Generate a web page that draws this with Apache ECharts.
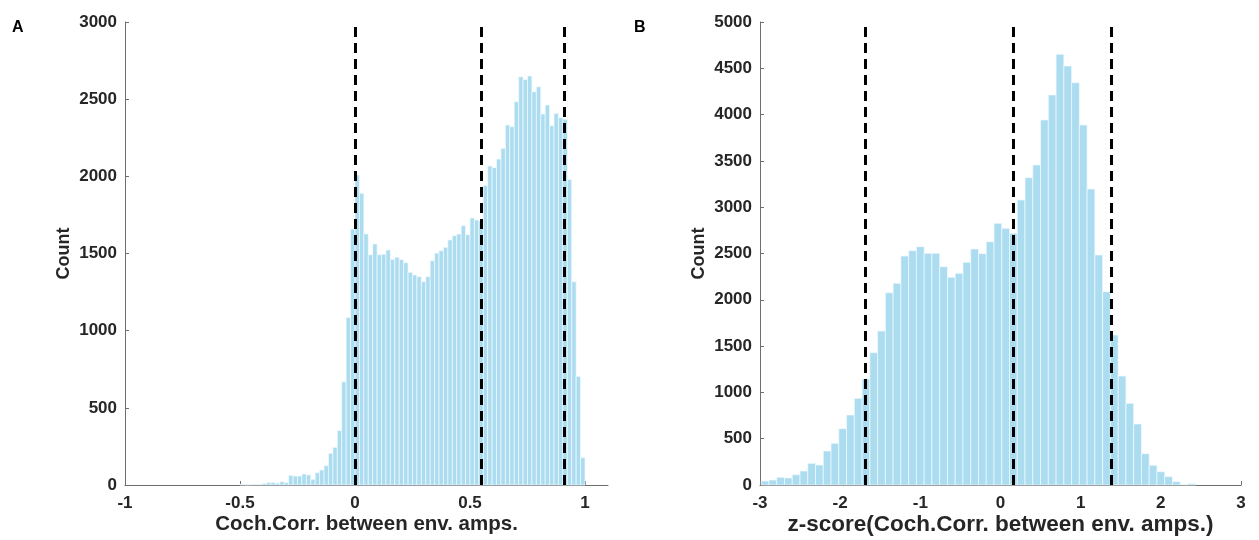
<!DOCTYPE html>
<html>
<head>
<meta charset="utf-8">
<script src="https://cdn.jsdelivr.net/npm/echarts@6/dist/echarts.min.js"></script>
<style>
  html, body { margin: 0; padding: 0; background: #fff; }
  #main { width: 1259px; height: 540px; }
</style>
</head>
<body>
<div id="main"></div>
<script>
// panel A: Coch.Corr. histogram, bins of 1/52 starting at -0.5
const aFirstEdge = -0.5;
const aBinWidth = 1 / 52;
const aCounts = [
  4, 2, 3, 5, 4, 10, 15, 15, 12, 21, 15, 63, 58, 58, 71, 65, 37, 80, 97, 125,
  205, 244, 352, 669, 1086, 1658,
  2009, 1890, 1627, 1492, 1562, 1492, 1495, 1523, 1462, 1475, 1460, 1440, 1378,
  1361, 1350, 1317, 1350, 1453, 1503, 1518, 1540, 1588, 1615, 1626, 1680, 1622,
  1730, 1717, 1710, 1940, 2067, 2056, 2112, 2181, 2333, 2322, 2484, 2645, 2628,
  2650, 2548, 2580, 2404, 2462, 2328, 2408, 2380, 2370, 1980, 1317, 704, 177
];
const aLines = [0, 0.55, 0.91];
const aXTicks = [-1, -0.5, 0, 0.5, 1];

// panel B: z-score histogram
const bFirstEdge = -2.985;
const bBinWidth = 0.0968;
const bCounts = [
  43, 54, 83, 76, 111, 151, 234, 216, 367, 450,
  608, 756, 936, 1145, 1429, 1663, 2077, 2178, 2473, 2530,
  2574, 2502, 2502, 2358, 2243, 2286, 2405, 2549, 2498, 2628,
  2826, 2772, 2718, 3078, 3319, 3456, 3942, 4212, 4651, 4525,
  4345, 3888, 3197, 2484, 2088, 1620, 1177, 882, 659, 338,
  213, 144, 90, 36, 5, 15
];
const bLines = [-1.69, 0.16, 1.38];
const bXTicks = [-3, -2, -1, 0, 1, 2, 3];

const barColor = '#acdcf0';
const axisColor = '#6e6e6e';
const textColor = '#262626';
const font = 'Liberation Sans';

const chart = echarts.init(document.getElementById('main'), null, { renderer: 'canvas' });

function histSeries(firstEdge, binWidth, counts, lines, idx) {
  const data = counts.map(function (c, i) {
    return [firstEdge + i * binWidth, firstEdge + (i + 1) * binWidth, c];
  });
  return {
    type: 'custom',
    xAxisIndex: idx,
    yAxisIndex: idx,
    encode: { x: [0, 1], y: 2 },
    data: data,
    renderItem: function (params, api) {
      const p0 = api.coord([api.value(0), api.value(2)]);
      const p1 = api.coord([api.value(1), 0]);
      return {
        type: 'rect',
        shape: { x: p0[0], y: p0[1], width: p1[0] - p0[0], height: p1[1] - p0[1] },
        style: { fill: barColor, stroke: '#f2fafd', lineWidth: 0.7 }
      };
    },
    markLine: {
      silent: true,
      symbol: 'none',
      label: { show: false },
      lineStyle: { color: '#000', width: 3, type: [10, 6] },
      data: lines.map(function (v) { return { xAxis: v }; })
    }
  };
}

function xAxisOf(idx, min, max, ticks, name, nameSize, gap) {
  return {
    type: 'value',
    gridIndex: idx,
    min: min,
    max: max,
    name: name,
    nameLocation: 'middle',
    nameGap: gap,
    nameMoveOverlap: false,
    nameTextStyle: { color: textColor, fontFamily: font, fontWeight: 'bold', fontSize: nameSize },
    axisLine: { show: true, onZero: false, lineStyle: { color: axisColor, width: 1 } },
    axisTick: { show: true, inside: true, length: 4, customValues: ticks, lineStyle: { color: axisColor } },
    axisLabel: { customValues: ticks, color: textColor, fontFamily: font, fontWeight: 'bold', fontSize: 17, margin: 10 },
    splitLine: { show: false }
  };
}

function yAxisOf(idx, max) {
  return {
    type: 'value',
    gridIndex: idx,
    min: 0,
    max: max,
    interval: 500,
    name: 'Count',
    nameLocation: 'middle',
    nameGap: 52,
    nameMoveOverlap: false,
    nameTextStyle: { color: textColor, fontFamily: font, fontWeight: 'bold', fontSize: 18 },
    axisLine: { show: true, onZero: false, lineStyle: { color: axisColor, width: 1 } },
    axisTick: { show: true, inside: true, length: 4, lineStyle: { color: axisColor } },
    axisLabel: {
      color: textColor, fontFamily: font, fontWeight: 'bold', fontSize: 17, margin: 8,
      formatter: function (v) { return String(v); }
    },
    splitLine: { show: false }
  };
}

const option = {
  animation: false,
  backgroundColor: '#fff',
  grid: [
    { left: 125, top: 22, width: 483, height: 463, outerBoundsMode: 'none' },
    { left: 760, top: 22, width: 481, height: 463, outerBoundsMode: 'none' }
  ],
  xAxis: [
    xAxisOf(0, -1, 1.1, aXTicks, 'Coch.Corr. between env. amps.', 20.5, 29),
    xAxisOf(1, -3, 3, bXTicks, 'z-score(Coch.Corr. between env. amps.)', 22.5, 28)
  ],
  yAxis: [yAxisOf(0, 3000), yAxisOf(1, 5000)],
  graphic: [
    { type: 'text', left: 12, top: 20, style: { text: 'A', fill: '#000', font: 'bold 16px "Liberation Sans"' } },
    { type: 'text', left: 634, top: 20, style: { text: 'B', fill: '#000', font: 'bold 16px "Liberation Sans"' } }
  ],
  series: [
    histSeries(aFirstEdge, aBinWidth, aCounts, aLines, 0),
    histSeries(bFirstEdge, bBinWidth, bCounts, bLines, 1)
  ]
};

chart.setOption(option);
</script>
</body>
</html>
